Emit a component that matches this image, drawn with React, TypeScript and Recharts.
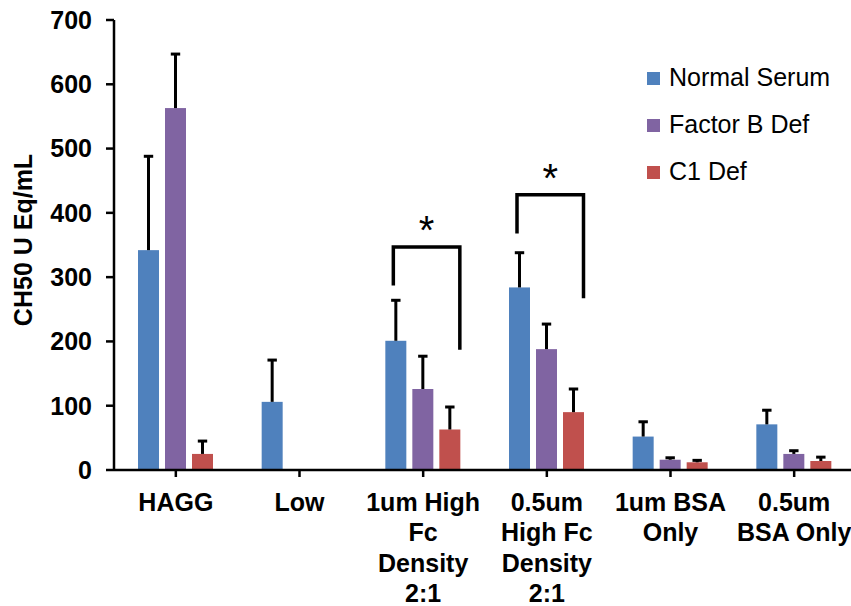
import React from "react";
import { BarChart, Bar, XAxis, YAxis } from "recharts";

// categories (line breaks follow the wrapped axis labels)
const categories = [
  "HAGG",
  "Low",
  "1um High\nFc\nDensity\n2:1",
  "0.5um\nHigh Fc\nDensity\n2:1",
  "1um BSA\nOnly",
  "0.5um\nBSA Only",
];

const normalSerum = [342, 106, 201, 284, 52, 71];
const normalSerumErr = [146, 65, 63, 54, 23, 22];
const factorBDef = [563, 0, 126, 188, 16, 25];
const factorBDefErr = [84, 0, 51, 39, 3, 5];
const c1Def = [25, 0, 63, 90, 12, 14];
const c1DefErr = [20, 0, 35, 36, 3, 6];

// significance brackets: top of bracket, end of left leg, end of right leg
const sigTop = [null, null, 347, 428, null, null];
const sigLeftEnd = [null, null, 287, 368, null, null];
const sigRightEnd = [null, null, 187, 267, null, null];

const yTicks = [0, 100, 200, 300, 400, 500, 600, 700];

const series = [
  { key: "normal", name: "Normal Serum", color: "#4F81BD" },
  { key: "factorB", name: "Factor B Def", color: "#8064A2" },
  { key: "c1", name: "C1 Def", color: "#C0504D" },
];

const data = categories.map((category, i) => ({
  category,
  normal: normalSerum[i],
  normalErr: normalSerumErr[i],
  factorB: factorBDef[i],
  factorBErr: factorBDefErr[i],
  c1: c1Def[i],
  c1Err: c1DefErr[i],
  sigTop: sigTop[i],
  sigLeftEnd: sigLeftEnd[i],
  sigRightEnd: sigRightEnd[i],
}));

const FONT = "'Liberation Sans', Arial, sans-serif";

// bar + upward-only error bar (+ significance bracket for the first series)
const makeShape = (valueKey: string, errKey: string, withSig: boolean) => (props: any) => {
  const { x, y, width, height, fill, payload } = props;
  const value = payload[valueKey];
  if (!value || height <= 0) return <g />;
  const pxPer = height / value;
  const base = y + height;
  const cx = x + width / 2;
  const errTop = y - payload[errKey] * pxPer;
  let sig = null;
  if (withSig && payload.sigTop != null) {
    const lx = x + 8;
    const rx = x + 74.5;
    const top = base - payload.sigTop * pxPer;
    const ly = base - payload.sigLeftEnd * pxPer;
    const ry = base - payload.sigRightEnd * pxPer;
    sig = (
      <g>
        <path
          d={`M${lx},${ly} L${lx},${top} L${rx},${top} L${rx},${ry}`}
          fill="none"
          stroke="#000"
          strokeWidth={3.5}
        />
        <text
          x={(lx + rx) / 2}
          y={top - 3}
          textAnchor="middle"
          fontSize={40}
          fontFamily={FONT}
          fill="#000"
        >
          *
        </text>
      </g>
    );
  }
  return (
    <g>
      <rect x={x} y={y} width={width} height={height} fill={fill} />
      {payload[errKey] > 0 && (
        <g stroke="#000" strokeWidth={3}>
          <line x1={cx} y1={y} x2={cx} y2={errTop} />
          <line x1={cx - 4.7} y1={errTop} x2={cx + 4.7} y2={errTop} />
        </g>
      )}
      {sig}
    </g>
  );
};

const CategoryTick = ({ x, y, payload }: any) => {
  const lines = String(payload.value).split("\n");
  return (
    <text
      textAnchor="middle"
      fontSize={25}
      fontWeight="bold"
      fontFamily={FONT}
      fill="#000"
    >
      {lines.map((line, i) => (
        <tspan key={i} x={x} y={y + 32 + i * 30.3}>
          {line}
        </tspan>
      ))}
    </text>
  );
};

const AxisTitle = ({ viewBox }: any) => {
  const cx = 23;
  const cy = viewBox.y + viewBox.height / 2 - 5;
  return (
    <text
      x={cx}
      y={cy}
      transform={`rotate(-90, ${cx}, ${cy})`}
      textAnchor="middle"
      dominantBaseline="central"
      fontSize={25}
      fontWeight="bold"
      fontFamily={FONT}
      fill="#000"
    >
      CH50 U Eq/mL
    </text>
  );
};

export default function App() {
  return (
    <div
      style={{
        position: "absolute",
        left: 0,
        top: 0,
        width: 851,
        height: 606,
        overflow: "hidden",
        background: "#fff",
        fontFamily: FONT,
      }}
    >
      <BarChart
        width={880}
        height={606}
        data={data}
        margin={{ top: 20, right: 24, bottom: 0, left: 0 }}
        barSize={21}
        barGap={6}
      >
        <XAxis
          dataKey="category"
          interval={0}
          height={136}
          tickSize={7}
          tick={<CategoryTick />}
          axisLine={{ stroke: "#000", strokeWidth: 2.5 }}
          tickLine={{ stroke: "#000", strokeWidth: 2.5 }}
        />
        <YAxis
          width={114}
          domain={[0, 700]}
          ticks={yTicks}
          interval={0}
          tickSize={8}
          tickMargin={14}
          tick={{ fill: "#000", fontSize: 25, fontWeight: "bold", fontFamily: FONT }}
          axisLine={{ stroke: "#000", strokeWidth: 2.5 }}
          tickLine={{ stroke: "#000", strokeWidth: 2.5 }}
          label={<AxisTitle />}
        />
        {series.map((s, i) => (
          <Bar
            key={s.key}
            dataKey={s.key}
            name={s.name}
            fill={s.color}
            isAnimationActive={false}
            shape={makeShape(s.key, s.key + "Err", i === 0)}
          />
        ))}
      </BarChart>
      {series.map((s, i) => (
        <div
          key={s.key}
          style={{
            position: "absolute",
            left: 647,
            top: 61.5 + i * 47,
            height: 30,
            lineHeight: "30px",
            fontSize: 25,
            color: "#000",
            whiteSpace: "nowrap",
          }}
        >
          <span
            style={{
              display: "inline-block",
              width: 13,
              height: 13,
              background: s.color,
              marginRight: 9,
              verticalAlign: "1px",
            }}
          />
          {s.name}
        </div>
      ))}
    </div>
  );
}
